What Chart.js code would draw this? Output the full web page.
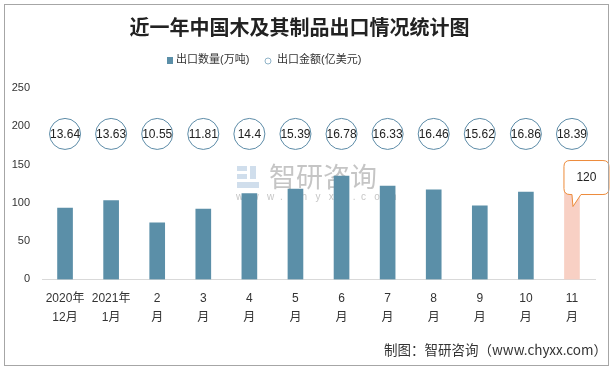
<!DOCTYPE html>
<html>
<head>
<meta charset="utf-8">
<script src="https://cdn.jsdelivr.net/npm/chart.js@4"></script>
<style>
  html, body { margin: 0; padding: 0; background: #fff; }
  canvas { display: block; }
</style>
</head>
<body>
<canvas id="exportChart" width="613" height="369"></canvas>
<script>
// 数据
const months = [['2020年', '12月'], ['2021年', '1月'], ['2', '月'], ['3', '月'], ['4', '月'], ['5', '月'],
                ['6', '月'], ['7', '月'], ['8', '月'], ['9', '月'], ['10', '月'], ['11', '月']];
const exportVolume = [93, 103, 74, 92, 112, 118, 135, 122, 117, 96, 114, 120];   // 出口数量(万吨)
const exportValue = [13.64, 13.63, 10.55, 11.81, 14.4, 15.39, 16.78, 16.33, 16.46, 15.62, 16.86, 18.39]; // 出口金额(亿美元)
const yMax = 250;
const yStep = 50;

const markerLevel = 190; // 金额圆圈所在的高度
const FONT = "'Liberation Sans', 'Noto Sans CJK SC', sans-serif";
const BAR_COLOR = '#5b8fa8';
const LAST_COLOR = '#f8d0c4';
const RING_COLOR = '#5d8ca8';

// 装饰：背景、图例、水印、圆圈标签、标注框、边框、来源
const decorPlugin = {
    id: 'decor',
    beforeDraw(chart) {
        const ctx = chart.ctx;
        ctx.save();
        ctx.fillStyle = '#fff';
        ctx.fillRect(0, 0, chart.width, chart.height);

        // 图例（手动绘制，位置与原图一致）
        const ds = chart.data.datasets;
        ctx.font = '11px ' + FONT;
        ctx.textBaseline = 'middle';
        ctx.fillStyle = BAR_COLOR;
        ctx.fillRect(167, 57, 6, 7);
        ctx.fillStyle = '#333';
        ctx.fillText(ds[0].label, 176, 60);
        ctx.beginPath();
        ctx.arc(268, 61, 3, 0, Math.PI * 2);
        ctx.strokeStyle = '#8fb3c8';
        ctx.lineWidth = 1;
        ctx.stroke();
        ctx.fillText(ds[1].label, 277, 60);
        ctx.restore();
    },
    beforeDatasetsDraw(chart) {
        const ctx = chart.ctx;
        ctx.save();
        // 水印 logo
        ctx.fillStyle = 'rgba(170, 195, 220, 0.55)';
        ctx.fillRect(237, 166, 10, 5);
        ctx.fillRect(237, 174, 10, 5);
        ctx.fillRect(250, 166, 6, 13);
        ctx.fillRect(237, 182, 22, 6);
        ctx.fillStyle = 'rgba(150, 150, 150, 0.55)';
        ctx.font = "27px 'Noto Sans CJK SC'";
        ctx.textBaseline = 'middle';
        ctx.fillText('智研咨询', 269, 177);
        ctx.font = "10px " + FONT;
        ctx.fillText('w   w   w  .  c   h   y   x   x  .  c   o   m', 236, 197);
        ctx.restore();
    },
    afterDatasetsDraw(chart) {
        const ctx = chart.ctx;
        ctx.save();
        // 圆圈中的金额
        const pts = chart.getDatasetMeta(1).data;
        ctx.font = '12px ' + FONT;
        ctx.fillStyle = '#222';
        ctx.textAlign = 'center';
        ctx.textBaseline = 'middle';
        pts.forEach((pt, i) => {
            ctx.fillText(String(exportValue[i]), pt.x, pt.y + 1);
        });

        // 最后一根柱子的标注框
        const bars = chart.getDatasetMeta(0).data;
        const last = bars[bars.length - 1];
        const bx = last.x, by = last.y;
        const left = bx - 8, right = bx + 37, top = by - 27, bottom = by + 7, r = 6;
        ctx.beginPath();
        ctx.moveTo(left + r, top);
        ctx.lineTo(right - r, top);
        ctx.quadraticCurveTo(right, top, right, top + r);
        ctx.lineTo(right, bottom - r);
        ctx.quadraticCurveTo(right, bottom, right - r, bottom);
        ctx.lineTo(bx + 9, bottom);
        ctx.lineTo(bx + 1, by + 19);
        ctx.lineTo(bx, bottom);
        ctx.lineTo(left + r, bottom);
        ctx.quadraticCurveTo(left, bottom, left, bottom - r);
        ctx.lineTo(left, top + r);
        ctx.quadraticCurveTo(left, top, left + r, top);
        ctx.closePath();
        ctx.fillStyle = '#fff';
        ctx.fill();
        ctx.strokeStyle = '#ed8b3a';
        ctx.lineWidth = 1;
        ctx.stroke();
        ctx.fillStyle = '#222';
        ctx.fillText(String(exportVolume[exportVolume.length - 1]), (left + right) / 2, (top + bottom) / 2);
        ctx.restore();
    },
    afterDraw(chart) {
        const ctx = chart.ctx;
        ctx.save();
        ctx.strokeStyle = '#a6a6a6';
        ctx.lineWidth = 1;
        ctx.strokeRect(4.5, 4.5, 604, 361);
        ctx.font = "13.5px 'Noto Sans CJK SC'";
        ctx.fillStyle = '#333';
        ctx.textAlign = 'right';
        ctx.textBaseline = 'middle';
        ctx.fillText('制图：智研咨询（www.chyxx.com）', 607, 350);
        ctx.restore();
    }
};

function renderExportChart() {
    const ctx = document.getElementById('exportChart').getContext('2d');

    new Chart(ctx, {
        data: {
            labels: months,
            datasets: [{
                type: 'bar',
                label: '出口数量(万吨)',
                data: exportVolume,
                backgroundColor: exportVolume.map((v, i) => i === exportVolume.length - 1 ? LAST_COLOR : BAR_COLOR),
                barThickness: 15
            }, {
                type: 'line',
                label: '出口金额(亿美元)',
                data: exportValue.map(() => markerLevel),
                showLine: false,
                backgroundColor: '#fff',
                borderColor: RING_COLOR,
                pointBackgroundColor: '#fff',
                pointBorderColor: RING_COLOR,
                pointBorderWidth: 1,
                pointRadius: 15.5,
                pointHoverRadius: 15.5
            }]
        },
        options: {
            responsive: false,
            animation: false,
            events: [],
            layout: { padding: { left: 4, right: 18, top: 0, bottom: 32 } },
            scales: {
                x: {
                    grid: { display: false, drawTicks: false },
                    border: { display: true, color: '#d9d9d9' },
                    ticks: {
                        color: '#333',
                        font: { family: FONT, size: 12, lineHeight: 1.65 },
                        padding: 9,
                        maxRotation: 0,
                        autoSkip: false
                    }
                },
                y: {
                    min: 0,
                    max: yMax,
                    grid: { display: false, drawTicks: false },
                    border: { display: false },
                    ticks: {
                        stepSize: yStep,
                        color: '#333',
                        font: { family: FONT, size: 11 },
                        padding: 12
                    },
                    afterFit(scale) { scale.width = 38; }
                }
            },
            plugins: {
                title: {
                    display: true,
                    text: '近一年中国木及其制品出口情况统计图',
                    color: '#222',
                    font: { family: "'Noto Sans CJK SC'", size: 20, weight: 'bold' },
                    padding: { top: 15, bottom: 49 }
                },
                legend: { display: false },
                tooltip: { enabled: false }
            }
        },
        plugins: [decorPlugin]
    });
}

window.onload = function() {
    renderExportChart();
};
</script>
</body>
</html>
